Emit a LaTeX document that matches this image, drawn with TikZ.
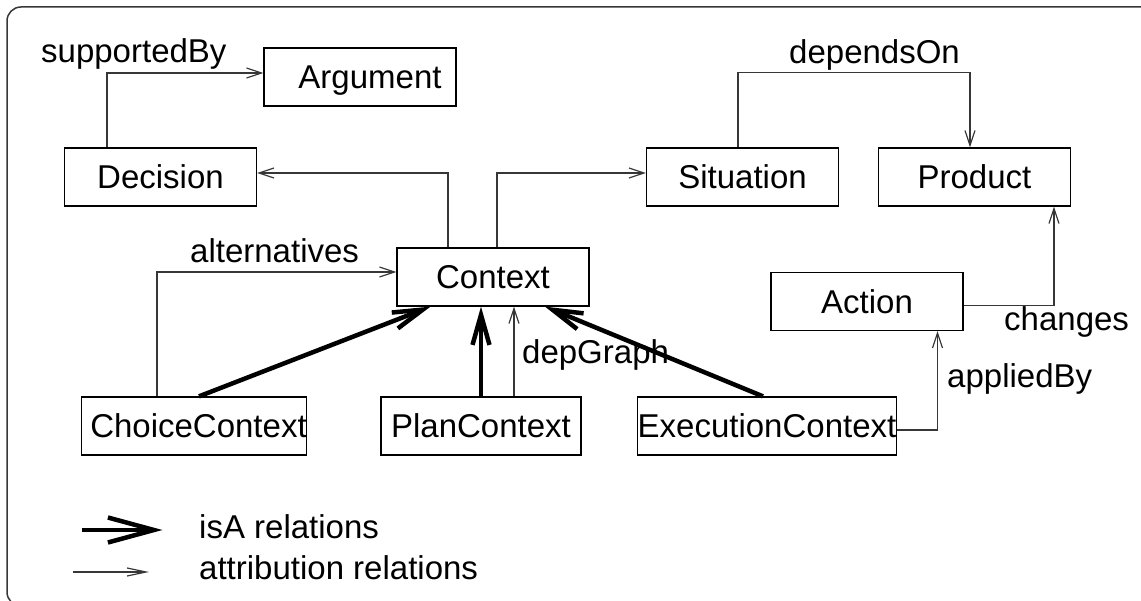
\documentclass[tikz,border=0pt]{standalone}
\usepackage{fontspec}
\setmainfont{Liberation Sans}
\usetikzlibrary{arrows.meta}
\definecolor{lineGray}{RGB}{55,55,55}

\begin{document}
\begin{tikzpicture}[x=1pt,y=-1pt,
    every node/.style={font=\fontsize{33}{40}\selectfont},
    cls/.style={draw,line width=1.3pt,inner sep=0pt,minimum width=192pt,
      minimum height=58pt,text height=23.6pt,text depth=0pt},
    attr/.style={draw=lineGray,line width=1.2pt,
      -{Straight Barb[length=15pt,width=10pt]}},
    isa/.style={line width=4.5pt,-{Straight Barb[length=30pt,width=17pt]}},
    lbl/.style={anchor=base west,inner sep=0pt}]
  \useasboundingbox (0,0) rectangle (1141,601);
  \clip (0,0) rectangle (1141,601);
  \draw[lineGray,line width=1.5pt,rounded corners=14pt] (7,7) rectangle (1160,606);

  \node[cls] (arg) at (360,77) {\hspace*{20pt}Argument};
  \node[cls] (dec) at (160.5,177) {Decision};
  \node[cls] (sit) at (742.5,177) {Situation};
  \node[cls] (prod) at (974.5,177) {Product};
  \node[cls] (ctx) at (493,277) {Context};
  \node[cls] (act) at (867,301.5) {Action};
  \node[cls,minimum width=225pt] (choice) at (194,426) {\hspace*{9pt}ChoiceContext};
  \node[cls,minimum width=200pt] (plan) at (481,426) {PlanContext};
  \node[cls,minimum width=258pt] (exec) at (767,426) {ExecutionContext};

  \draw[attr] ([xshift=-53.5pt]dec.north) |- ([yshift=4pt]arg.west);
  \draw[attr] ([xshift=-45pt]ctx.north) |- ([yshift=4pt]dec.east);
  \draw[attr] ([xshift=4pt]ctx.north) |- ([yshift=4pt]sit.west);
  \draw[attr] ([xshift=-4.5pt]sit.north) -- ++(0,75pt) -| ([xshift=-4.5pt]prod.north);
  \draw[attr] ([xshift=-37pt]choice.north) |- ([yshift=5pt]ctx.west);
  \draw[attr] ([xshift=33pt]plan.north) -- ([xshift=21pt]ctx.south);
  \draw[attr] ([yshift=-4pt]exec.east) -| ([xshift=70.5pt]act.south);
  \draw[attr] ([yshift=-4pt]act.east) -| ([xshift=79.5pt]prod.south);

  \draw[isa] ([xshift=5pt]choice.north) -- ([xshift=-62.5pt]ctx.south);
  \draw[isa] (plan.north) -- (plan.north |- ctx.south);
  \draw[isa] ([xshift=-4pt]exec.north) -- ([xshift=52pt]ctx.south);

  \node[lbl] (lsup) at (41,63) {supportedBy};
  \node[lbl] (ldep) at (789,64) {dependsOn};
  \node[lbl] (lalt) at (190,263) {alternatives};
  \node[lbl] (lgraph) at (522,364) {depGraph};
  \node[lbl] (lapp) at (947,388) {appliedBy};
  \node[lbl] (lchg) at (1004,331) {changes};

  \coordinate (k1a) at (81.5,530);
  \coordinate (k1b) at (162.5,530);
  \coordinate (k2a) at (72.5,572);
  \coordinate (k2b) at (149,572);
  \draw[line width=4.5pt,-{Straight Barb[length=46pt,width=25pt]}] (k1a) -- (k1b);
  \draw[attr,-{Straight Barb[length=19pt,width=8pt]}] (k2a) -- (k2b);
  \node[lbl] (lisa) at (199,538) {isA relations};
  \node[lbl] (lattr) at (199,579) {attribution relations};
\end{tikzpicture}
\end{document}
